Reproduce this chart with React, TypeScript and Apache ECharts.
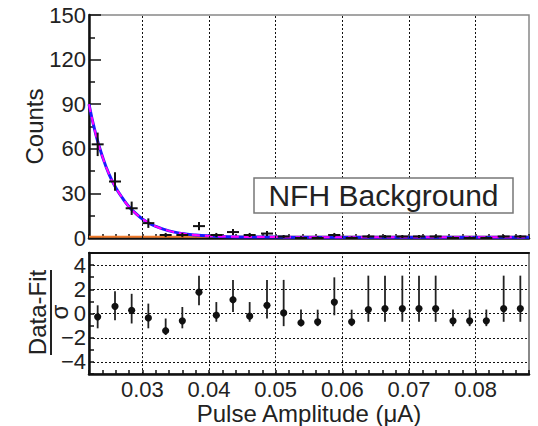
import React, { useEffect, useRef } from "react";
import * as echarts from "echarts";

// ---- data ----
const binCenters = [0.0233, 0.0259, 0.0284, 0.0309, 0.0335, 0.036, 0.0385, 0.0411, 0.0436, 0.0461, 0.0487, 0.0512, 0.0538, 0.0563, 0.0588, 0.0614, 0.0639, 0.0664, 0.069, 0.0715, 0.074, 0.0766, 0.0791, 0.0816, 0.0842, 0.0867];
const counts = [63, 38, 20, 10, 2, 2, 8, 2, 4, 2, 3, 1, 0, 0, 2, 0, 1, 1, 1, 1, 1, 0, 0, 0, 1, 1];
const countErrLow = [7.9, 6.2, 4.5, 3.2, 1.4, 1.4, 2.8, 1.4, 2, 1.4, 1.7, 1, 0, 0, 1.4, 0, 1, 1, 1, 1, 1, 0, 0, 0, 1, 1];
const countErrHigh = [7.9, 6.2, 4.5, 3.2, 1.4, 1.4, 2.8, 1.4, 2, 1.4, 1.7, 1, 1.1, 1.1, 1.4, 1.1, 1, 1, 1, 1, 1, 1.1, 1.1, 1.1, 1, 1];

const fitX = [0.022, 0.023, 0.024, 0.025, 0.026, 0.027, 0.028, 0.029, 0.03, 0.031, 0.032, 0.034, 0.036, 0.038, 0.04, 0.043, 0.046, 0.05, 0.055, 0.06, 0.07, 0.08, 0.088];
const fitY = [90, 70, 55, 43, 34, 27, 21, 16.5, 12.8, 10, 7.8, 4.8, 3.0, 2.0, 1.4, 0.9, 0.7, 0.6, 0.5, 0.5, 0.5, 0.5, 0.5];

const bgX = [0.022, 0.088];
const bgY = [0.8, 0.8];

const residuals = [-0.27, 0.6, 0.27, -0.36, -1.42, -0.6, 1.76, -0.14, 1.14, -0.22, 0.68, 0.05, -0.76, -0.68, 0.95, -0.68, 0.33, 0.41, 0.41, 0.41, 0.41, -0.6, -0.6, -0.6, 0.41, 0.41];
const resErrUp = [0.95, 1.25, 1.36, 1.18, 1.01, 1.14, 1.37, 1.09, 1.64, 1.17, 2.1, 2.73, 1.09, 1.0, 2.04, 1.0, 2.8, 2.72, 2.72, 2.72, 2.72, 0.93, 0.93, 0.93, 2.72, 2.72];
const resErrDown = [0.95, 1.15, 1.09, 0.86, 0.35, 0.62, 1.08, 0.54, 1.01, 0.46, 1.09, 1.09, 0.28, 0.36, 1.09, 0.36, 1.01, 1.09, 1.09, 1.09, 1.09, 0.44, 0.44, 0.44, 1.09, 1.09];

const xGridValues = [0.03, 0.04, 0.05, 0.06, 0.07, 0.08];
const resGridValues = [4, 2, 0, -2, -4];

const X_MIN = 0.022;
const X_MAX = 0.088;
const BIN_HALF = 0.0009;

const FONT = "'Liberation Sans', Arial, Helvetica, sans-serif";
const TXT = "#222";

export default function App() {
  const ref = useRef<HTMLDivElement>(null);
  useEffect(() => {
    if (!ref.current) return;
    const chart = echarts.init(ref.current, null, { renderer: "svg" });

    const xLabelFmt = (v: number) => {
      const r = Math.round(v * 100);
      return Math.abs(v * 100 - r) < 1e-6 ? (r / 100).toFixed(2) : "";
    };
    const resLabelFmt = (v: number) => {
      const r = Math.round(v);
      if (r % 2 !== 0) return "";
      return r < 0 ? "\u2212" + Math.abs(r) : String(r);
    };

    const dotted = { type: [2, 2] as any, color: "#111", width: 1 };

    const option: any = {
      animation: false,
      textStyle: { fontFamily: FONT },
      grid: [
        { left: 89, top: 15, width: 440, height: 223, show: true, borderColor: "#888", borderWidth: 1.5 },
        { left: 89, top: 253, width: 440, height: 122, show: true, borderColor: "#888", borderWidth: 2 },
      ],
      xAxis: [
        {
          gridIndex: 0, type: "value", min: X_MIN, max: X_MAX, interval: 0.002,
          axisLine: { onZero: false, lineStyle: { color: "#111", width: 2.5 } },
          axisTick: { inside: true, length: 4, lineStyle: { color: "#111", width: 1.5 } },
          axisLabel: { show: false }, splitLine: { show: false },
        },
        {
          gridIndex: 1, type: "value", min: X_MIN, max: X_MAX, interval: 0.002,
          axisLine: { onZero: false, lineStyle: { color: "#111", width: 2.5 } },
          axisTick: { inside: true, length: 4, lineStyle: { color: "#111", width: 1.5 } },
          axisLabel: { formatter: xLabelFmt, fontSize: 22, color: TXT, margin: 4, fontFamily: FONT },
          splitLine: { show: false },
          name: "Pulse Amplitude (\u03bcA)", nameLocation: "middle", nameGap: 21,
          nameTextStyle: { fontSize: 24, color: TXT, fontFamily: FONT },
        },
        {
          gridIndex: 1, type: "value", position: "top", min: X_MIN, max: X_MAX,
          axisLine: { onZero: false, lineStyle: { color: "#111", width: 2 } },
          axisTick: { show: false }, axisLabel: { show: false }, splitLine: { show: false },
        },
      ],
      yAxis: [
        {
          gridIndex: 0, type: "value", min: 0, max: 150, interval: 30,
          axisLine: { show: true, onZero: false, lineStyle: { color: "#111", width: 2.5 } },
          axisTick: { show: true, inside: true, length: 12, lineStyle: { color: "#111", width: 1.5 } },
          minorTick: { show: true, splitNumber: 2, length: 6, lineStyle: { color: "#111", width: 1.5 } },
          axisLabel: { fontSize: 22, color: TXT, margin: 3, fontFamily: FONT },
          splitLine: { show: false },
          name: "Counts", nameLocation: "middle", nameGap: 43, nameMoveOverlap: false,
          nameTextStyle: { fontSize: 24, color: TXT, fontFamily: FONT },
        },
        {
          gridIndex: 1, type: "value", min: -5, max: 5, interval: 1,
          axisLine: { show: true, onZero: false, lineStyle: { color: "#111", width: 2.5 } },
          axisTick: { show: true, inside: true, length: 5, lineStyle: { color: "#111", width: 1.5 } },
          axisLabel: { formatter: resLabelFmt, fontSize: 22, color: TXT, margin: 3, fontFamily: FONT },
          splitLine: { show: false },
        },
      ],
      series: [
        {
          type: "line", xAxisIndex: 0, yAxisIndex: 0, z: 1,
          data: bgX.map((x, i) => [x, bgY[i]]),
          showSymbol: false, lineStyle: { color: "#f07a2a", width: 2 },
          markLine: {
            silent: true, symbol: "none", label: { show: false },
            lineStyle: dotted,
            data: xGridValues.map((v) => ({ xAxis: v })),
          },
        },
        {
          type: "line", xAxisIndex: 0, yAxisIndex: 0, z: 3,
          data: fitX.map((x, i) => [x, fitY[i]]), smooth: true,
          showSymbol: false, lineStyle: { color: "#1a1aff", width: 3 },
        },
        {
          type: "line", xAxisIndex: 0, yAxisIndex: 0, z: 4,
          data: fitX.map((x, i) => [x, fitY[i]]), smooth: true,
          showSymbol: false, lineStyle: { color: "#ff00ff", width: 2, type: [8, 5] },
        },
        {
          type: "custom", xAxisIndex: 0, yAxisIndex: 0, z: 5,
          data: binCenters.map((x, i) => [x, counts[i], countErrLow[i], countErrHigh[i]]),
          encode: { x: 0, y: 1 },
          renderItem: (params: any, api: any) => {
            const x = api.value(0), y = api.value(1), lo = api.value(2), hi = api.value(3);
            const pLo = api.coord([x, y - lo]);
            const pHi = api.coord([x, y + hi]);
            const pL = api.coord([x - BIN_HALF, y]);
            const pR = api.coord([x + BIN_HALF, y]);
            const st = { stroke: "#111", lineWidth: 2 };
            return {
              type: "group",
              children: [
                { type: "line", shape: { x1: pLo[0], y1: pLo[1], x2: pHi[0], y2: pHi[1] }, style: st },
                { type: "line", shape: { x1: pL[0], y1: pL[1], x2: pR[0], y2: pR[1] }, style: st },
              ],
            };
          },
        },
        {
          type: "line", xAxisIndex: 1, yAxisIndex: 1, z: 1,
          data: binCenters.map((x, i) => [x, residuals[i]]),
          showSymbol: false, lineStyle: { opacity: 0 },
          markLine: {
            silent: true, symbol: "none", label: { show: false },
            lineStyle: dotted,
            data: [
              ...xGridValues.map((v) => ({ xAxis: v })),
              ...resGridValues.map((v) => ({ yAxis: v })),
            ],
          },
        },
        {
          type: "custom", xAxisIndex: 1, yAxisIndex: 1, z: 5,
          data: binCenters.map((x, i) => [x, residuals[i], resErrDown[i], resErrUp[i]]),
          encode: { x: 0, y: 1 },
          renderItem: (params: any, api: any) => {
            const x = api.value(0), y = api.value(1), lo = api.value(2), hi = api.value(3);
            const pLo = api.coord([x, y - lo]);
            const pHi = api.coord([x, y + hi]);
            const p = api.coord([x, y]);
            return {
              type: "group",
              children: [
                { type: "line", shape: { x1: pLo[0], y1: pLo[1], x2: pHi[0], y2: pHi[1] }, style: { stroke: "#222", lineWidth: 1.8 } },
                { type: "circle", shape: { cx: p[0], cy: p[1], r: 3.6 }, style: { fill: "#111" } },
              ],
            };
          },
        },
      ],
      graphic: [
        {
          type: "rect", z: 10, shape: { x: 254, y: 178, width: 259, height: 35 },
          style: { fill: "#fff", stroke: "#777", lineWidth: 1.5 },
        },
        {
          type: "text", z: 11, x: 383.5, y: 195.5,
          style: { text: "NFH Background", fontSize: 30, fill: TXT, fontFamily: FONT, align: "center", verticalAlign: "middle", textAlign: "center", textVerticalAlign: "middle" },
        },
        {
          type: "text", z: 11, x: 37.5, y: 312.5, rotation: Math.PI / 2,
          style: { text: "Data-Fit", fontSize: 24, fill: TXT, fontFamily: FONT, align: "center", verticalAlign: "middle", textAlign: "center", textVerticalAlign: "middle" },
        },
        {
          type: "line", z: 11, shape: { x1: 51, y1: 270, x2: 51, y2: 355 },
          style: { stroke: TXT, lineWidth: 2 },
        },
        {
          type: "text", z: 11, x: 59, y: 312, rotation: Math.PI / 2,
          style: { text: "\u03c3", fontSize: 24, fill: TXT, fontFamily: FONT, align: "center", verticalAlign: "middle", textAlign: "center", textVerticalAlign: "middle" },
        },
      ],
    };
    chart.setOption(option);
    return () => chart.dispose();
  }, []);
  return <div ref={ref} style={{ position: "fixed", left: 0, top: 0, width: 538, height: 426, background: "#fff" }} />;
}
